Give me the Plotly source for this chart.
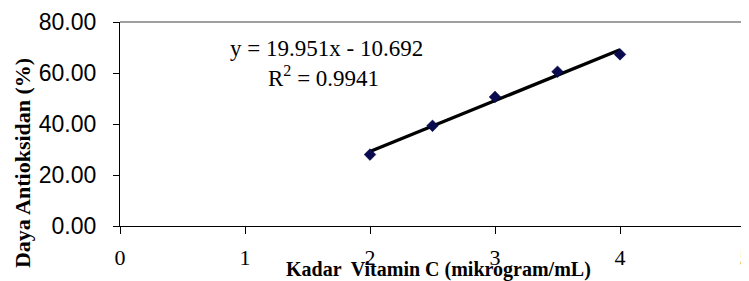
import plotly.graph_objects as go

# Data
kadar_vitc = [2.0, 2.5, 3.0, 3.5, 4.0]
daya_antioksidan = [28.0, 39.3, 50.6, 60.5, 67.3]
slope = 19.951
intercept = -10.692
r2 = 0.9941
y_ticks = [0, 20, 40, 60, 80]
x_ticks = [0, 1, 2, 3, 4, 5]

trend_x = [min(kadar_vitc), max(kadar_vitc)]
trend_y = [slope * v + intercept for v in trend_x]

fig = go.Figure()
fig.add_trace(go.Scatter(
    x=trend_x, y=trend_y, mode="lines",
    line=dict(color="black", width=3.4), showlegend=False, hoverinfo="skip"))
fig.add_trace(go.Scatter(
    x=kadar_vitc, y=daya_antioksidan, mode="markers",
    marker=dict(symbol="diamond", size=9, color="#0a0a50",
                line=dict(color="#000040", width=0.5)),
    showlegend=False))

# the page body has an 8px default margin, so the figure is sized/offset to compensate
fig.update_layout(
    width=741, height=273,
    margin=dict(l=112, r=4, t=14, b=55),
    paper_bgcolor="white", plot_bgcolor="white",
    xaxis=dict(
        range=[0, 5], tickvals=x_ticks, ticktext=[str(v) for v in x_ticks],
        automargin=False, ticklabeloverflow="allow",
        showgrid=False, zeroline=False, showline=True, linecolor="black", linewidth=1.3,
        ticks="outside", ticklen=7, tickcolor="black", tickwidth=1,
        ticklabelstandoff=4,
        tickfont=dict(family="Liberation Serif", size=22, color="black"),
    ),
    yaxis=dict(
        range=[0, 80], tickvals=y_ticks, tickformat=".2f",
        automargin=False,
        showgrid=False, zeroline=False, showline=True, linecolor="black", linewidth=1.3,
        ticks="outside", ticklen=6, tickcolor="black", tickwidth=1,
        ticklabelstandoff=12,
        tickfont=dict(family="Liberation Sans", size=23, color="black"),
    ),
    shapes=[
        dict(type="line", xref="x domain", yref="y domain", x0=0, x1=1, y0=1, y1=1,
             line=dict(color="#808080", width=1.5)),
        dict(type="line", xref="x domain", yref="y domain", x0=1, x1=1, y0=0, y1=1,
             line=dict(color="#808080", width=1.5)),
    ],
    annotations=[
        dict(text=f"y = {slope}x - {abs(intercept)}", xref="x", yref="y", x=1.65, y=69.8,
             showarrow=False, font=dict(family="Liberation Serif", size=23, color="black")),
        dict(text=f"R<sup>2</sup> = {r2}", xref="x", yref="y", x=1.63, y=58.8,
             showarrow=False, font=dict(family="Liberation Serif", size=23, color="black")),
        dict(text="<b>Kadar  Vitamin C (mikrogram/mL)</b>", xref="paper", yref="paper",
             x=0.509, y=-0.215, xanchor="center", yanchor="middle", showarrow=False,
             font=dict(family="Liberation Serif", size=20, color="black")),
        dict(text="<b>Daya Antioksidan (%)</b>", xref="paper", yref="paper",
             x=-0.155, y=0.309, xanchor="center", yanchor="middle", textangle=-90,
             showarrow=False,
             font=dict(family="Liberation Serif", size=22, color="black")),
    ],
)

fig.write_html("out.html")
